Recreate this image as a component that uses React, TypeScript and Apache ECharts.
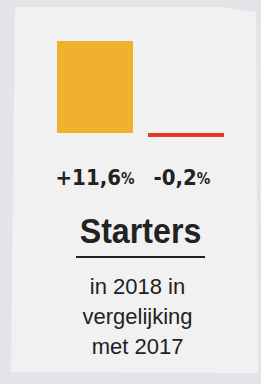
import React, { useEffect, useRef } from "react";
import * as echarts from "echarts";

const categories = ["Starters 2018", "Starters 2017-basis"];
const values = [11.6, -0.2];
const barColors = ["#f0b22e", "#e0392b"];
const title = "Starters";
const subtitleLines = ["in 2018 in", "vergelijking", "met 2017"];

const fmt = (v: number) => (v > 0 ? "+" : "") + v.toFixed(1).replace(".", ",");

export default function App() {
  const ref = useRef<HTMLDivElement>(null);
  useEffect(() => {
    const chart = echarts.init(ref.current!, null, { renderer: "svg" });
    const cond = "'DejaVu Sans Condensed', 'DejaVu Sans', sans-serif";
    const sans = "'Liberation Sans', Arial, sans-serif";
    chart.setOption({
      animation: false,
      backgroundColor: "#e5e3e8",
      grid: { left: 49.5, width: 182, top: 37.8, height: 103.1 },
      xAxis: {
        type: "category",
        data: categories,
        axisLine: { show: false, onZero: false },
        axisTick: { show: false },
        axisLabel: {
          interval: 0,
          margin: 26,
          formatter: (_: string, i: number) => `{n|${fmt(values[i])}}{${i === 0 ? "p" : "q"}|%}`,
          rich: {
            n: { fontFamily: cond, fontWeight: "bold", fontSize: 22, color: "#222222" },
            p: { fontFamily: cond, fontWeight: "bold", fontSize: 15, color: "#222222", padding: [3, 0, 0, 0] },
            q: { fontFamily: cond, fontWeight: "bold", fontSize: 15, color: "#222222", padding: [3, 8, 0, 0] },
          },
        },
      },
      yAxis: {
        type: "value",
        min: -1,
        max: 12,
        show: false,
        splitLine: { show: false },
      },
      graphic: [
        {
          type: "polygon",
          z: -10,
          shape: { points: [[15, 7], [220, 7], [256, 12], [258, 373], [11, 372]] },
          style: { fill: "#f1f1f1" },
        },
        {
          type: "text",
          x: 140.5,
          y: 231,
          scaleX: 0.92,
          style: {
            text: title,
            fontFamily: sans,
            fontWeight: "bold",
            fontSize: 35,
            fill: "#222222",
            textAlign: "center",
            textVerticalAlign: "middle",
          },
        },
        {
          type: "line",
          shape: { x1: 76, y1: 257, x2: 205, y2: 257 },
          style: { stroke: "#222222", lineWidth: 2 },
        },
        ...subtitleLines.map((t, i) => ({
          type: "text",
          x: 137.5,
          y: 286 + i * 30,
          style: {
            text: t,
            fontFamily: sans,
            fontSize: 22,
            fill: "#222222",
            textAlign: "center",
            textVerticalAlign: "middle",
          },
        })),
      ],
      series: [
        {
          type: "bar",
          barWidth: 76,
          barMinHeight: 4,
          data: values.map((v, i) => ({ value: v, itemStyle: { color: barColors[i] } })),
        },
      ],
    });
    return () => chart.dispose();
  }, []);
  return <div ref={ref} style={{ position: "fixed", left: 0, top: 0, width: 261, height: 384 }} />;
}
